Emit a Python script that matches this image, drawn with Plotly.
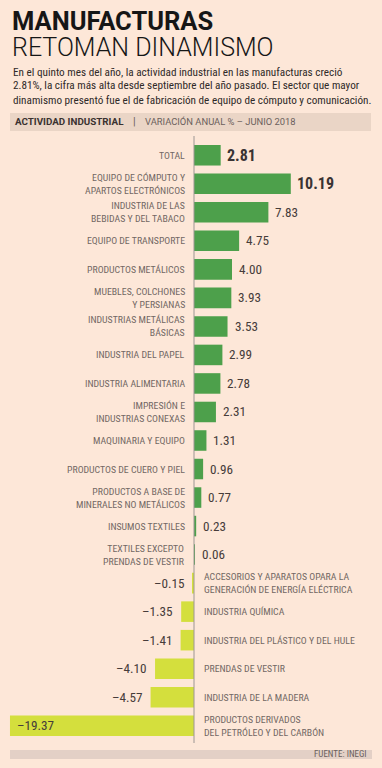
import plotly.graph_objects as go

categories = [
    "TOTAL",
    "EQUIPO DE CÓMPUTO Y<br>APARTOS ELECTRÓNICOS",
    "INDUSTRIA DE LAS<br>BEBIDAS Y DEL TABACO",
    "EQUIPO DE TRANSPORTE",
    "PRODUCTOS METÁLICOS",
    "MUEBLES, COLCHONES<br>Y PERSIANAS",
    "INDUSTRIAS METÁLICAS<br>BÁSICAS",
    "INDUSTRIA DEL PAPEL",
    "INDUSTRIA ALIMENTARIA",
    "IMPRESIÓN E<br>INDUSTRIAS CONEXAS",
    "MAQUINARIA Y EQUIPO",
    "PRODUCTOS DE CUERO Y PIEL",
    "PRODUCTOS A BASE DE<br>MINERALES NO METÁLICOS",
    "INSUMOS TEXTILES",
    "TEXTILES EXCEPTO<br>PRENDAS DE VESTIR",
    "ACCESORIOS Y APARATOS OPARA LA<br>GENERACIÓN DE ENERGÍA ELÉCTRICA",
    "INDUSTRIA QUÍMICA",
    "INDUSTRIA DEL PLÁSTICO Y DEL HULE",
    "PRENDAS DE VESTIR",
    "INDUSTRIA DE LA MADERA",
    "PRODUCTOS DERIVADOS<br>DEL PETRÓLEO Y DEL CARBÓN",
]
values = [2.81, 10.19, 7.83, 4.75, 4.00, 3.93, 3.53, 2.99, 2.78, 2.31, 1.31,
          0.96, 0.77, 0.23, 0.06, -0.15, -1.35, -1.41, -4.10, -4.57, -19.37]
value_labels = ["2.81", "10.19", "7.83", "4.75", "4.00", "3.93", "3.53", "2.99",
                "2.78", "2.31", "1.31", "0.96", "0.77", "0.23", "0.06", "–0.15",
                "–1.35", "–1.41", "–4.10", "–4.57", "–19.37"]
bold_values = {0, 1}

title1 = "MANUFACTURAS"
title2 = "RETOMAN DINAMISMO"
intro_lines = [
    "En el quinto mes del año, la actividad industrial en las manufacturas creció",
    "2.81%, la cifra más alta desde septiembre del año pasado. El sector que mayor",
    "dinamismo presentó fue el de fabricación de equipo de cómputo y comunicación.",
]
header_bold = "ACTIVIDAD INDUSTRIAL"
header_rest = "VARIACIÓN ANUAL % – JUNIO 2018"
source = "FUENTE: INEGI"

BG = "#fde7d8"
GREEN = "#4da04b"
LIME = "#d4df3d"
LABEL_C = "#726864"
VALUE_C = "#463c3a"
FONT = "Roboto, Lato, sans-serif"
NARROW = "Liberation Sans Narrow, Roboto Condensed, Roboto, sans-serif"

W, H = 382, 768
T, B = 141, 28
PH = H - T - B


def pxx(p):
    return p / W


def pyy(p):
    return (H - B - p) / PH


ys = list(range(len(categories)))
colors = [GREEN if v >= 0 else LIME for v in values]

fig = go.Figure(go.Bar(
    x=values, y=ys, orientation="h",
    marker=dict(color=colors, line=dict(width=0)),
    hoverinfo="skip",
))

ann = []
for i, (c, v, t) in enumerate(zip(categories, values, value_labels)):
    bold = i in bold_values
    vfont = dict(family=NARROW, size=16 if bold else 13.2,
                 color="#3a3333" if bold else VALUE_C, weight=700 if bold else 400)
    if v >= 0:
        ann.append(dict(x=0, y=i, xref="x", yref="y", text=c, showarrow=False,
                        xanchor="right", align="right", xshift=-7,
                        font=dict(family=NARROW, size=9.8, color=LABEL_C)))
        ann.append(dict(x=v, y=i, xref="x", yref="y", text=t,
                        showarrow=False, xanchor="left", xshift=4 if bold else 5,
                        font=vfont))
    else:
        ann.append(dict(x=0, y=i, xref="x", yref="y", text=c, showarrow=False,
                        xanchor="left", align="left", xshift=8,
                        font=dict(family=NARROW, size=9.8, color=LABEL_C)))
        if v < -10:
            ann.append(dict(x=v, y=i, xref="x", yref="y", text=t, showarrow=False,
                            xanchor="left", xshift=5, font=vfont))
        else:
            ann.append(dict(x=v, y=i, xref="x", yref="y", text=t, showarrow=False,
                            xanchor="right", xshift=-6, font=vfont))

# titles and texts
ann.append(dict(x=pxx(10), y=pyy(21.5), xref="paper", yref="paper", text=f"<b>{title1}</b>",
                showarrow=False, xanchor="left", yanchor="middle",
                font=dict(family=FONT, size=25.5, color="#161616", weight=900)))
ann.append(dict(x=pxx(10), y=pyy(47.5), xref="paper", yref="paper", text=title2,
                showarrow=False, xanchor="left", yanchor="middle",
                font=dict(family=FONT, size=25, color="#161616", weight=300)))
for k, line in enumerate(intro_lines):
    ann.append(dict(x=pxx(11), y=pyy(72 + 14 * k), xref="paper", yref="paper", text=line,
                    showarrow=False, xanchor="left", yanchor="middle",
                    font=dict(family=NARROW, size=11.2, color="#2f2a28")))
ann.append(dict(x=pxx(13), y=pyy(122), xref="paper", yref="paper", text=f"<b>{header_bold}</b>",
                showarrow=False, xanchor="left", yanchor="middle",
                font=dict(family=FONT, size=9.8, color="#3a3230")))
ann.append(dict(x=pxx(134), y=pyy(122), xref="paper", yref="paper", text="|",
                showarrow=False, xanchor="center", yanchor="middle",
                font=dict(family=FONT, size=11, color="#6a605c")))
ann.append(dict(x=pxx(143), y=pyy(122), xref="paper", yref="paper", text=header_rest,
                showarrow=False, xanchor="left", yanchor="middle",
                font=dict(family=FONT, size=9.4, color="#6a605c")))
ann.append(dict(x=pxx(369), y=pyy(754), xref="paper", yref="paper", text=source,
                showarrow=False, xanchor="right", yanchor="middle",
                font=dict(family=NARROW, size=9, color="#6a605c")))

shapes = [
    dict(type="rect", xref="paper", yref="paper", x0=pxx(10), x1=pxx(371),
         y0=pyy(131), y1=pyy(113), fillcolor="#ead5c6", line=dict(width=0), layer="below"),
    dict(type="rect", xref="paper", yref="paper", x0=pxx(10), x1=pxx(372),
         y0=pyy(759), y1=pyy(750), fillcolor="#e3d0c6", line=dict(width=0), layer="below"),
    dict(type="line", xref="x", yref="paper", x0=0, x1=0, y0=pyy(743), y1=pyy(136),
         line=dict(color="#9c9693", width=1)),
]

zero_px = 194.0
scale = 9.5
fig.update_layout(
    width=W, height=H,
    margin=dict(l=0, r=0, t=T, b=B),
    paper_bgcolor=BG, plot_bgcolor=BG,
    showlegend=False,
    bargap=0.28,
    xaxis=dict(range=[-zero_px / scale, (W - zero_px) / scale], visible=False, fixedrange=True),
    yaxis=dict(range=[len(categories) - 0.5, -0.5], visible=False, fixedrange=True),
    annotations=ann,
    shapes=shapes,
)

fig.write_html(
    "out.html",
    config={"displayModeBar": False},
    post_script="document.body.style.margin='0';document.body.style.background='" + BG + "';",
)
